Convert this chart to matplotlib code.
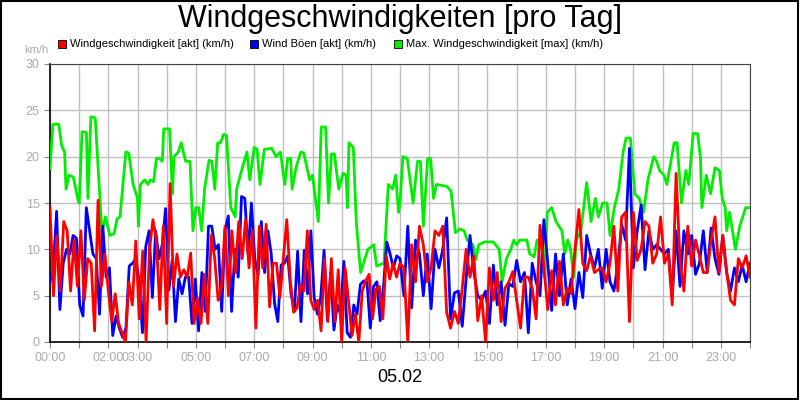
import numpy as np
import matplotlib
matplotlib.use("Agg")
import matplotlib.pyplot as plt
from matplotlib.patches import Rectangle

plt.rcParams["font.family"] = "Liberation Sans"

title = "Windgeschwindigkeiten [pro Tag]"
date_label = "05.02"
series_names = ["Windgeschwindigkeit [akt] (km/h)", "Wind Böen [akt] (km/h)", "Max. Windgeschwindigkeit [max] (km/h)"]
tick_hours = [0, 2, 3, 5, 7, 9, 11, 13, 15, 17, 19, 21, 23]
tick_labels = ["00:00", "02:00", "03:00", "05:00", "07:00", "09:00", "11:00", "13:00", "15:00", "17:00", "19:00", "21:00", "23:00"]

green_pts = [(0,18.7),(0.1,23.5),(0.3,23.5),(0.4,21.2),(0.5,20.5),(0.55,16.5),(0.65,18),(0.8,17.8),(0.95,15.5),(1.0,15),(1.1,22.7),(1.25,22.6),(1.3,15.5),(1.4,24.3),(1.55,24.2),(1.78,11.8),(1.9,13.5),(2.05,11.5),(2.2,11.7),(2.3,13.3),(2.4,13.5),(2.6,20.5),(2.7,20.4),(2.85,17),(2.95,16),(3.0,15.5),(3.03,12.5),(3.1,17),(3.25,17.5),(3.35,17),(3.45,17.5),(3.55,17.3),(3.65,19.8),(3.75,19.8),(3.85,19.5),(3.9,23),(4.1,23),(4.2,16),(4.25,20),(4.4,20.5),(4.5,21.5),(4.65,19.5),(4.8,19.5),(4.9,12),(5.0,14.5),(5.1,14.5),(5.2,12),(5.3,16.5),(5.45,19.6),(5.55,19.5),(5.65,16.5),(5.75,21.5),(5.85,21.5),(5.95,22.4),(6.05,22.3),(6.2,14.5),(6.35,13.5),(6.4,16.5),(6.55,18.3),(6.75,20.5),(6.85,17.5),(7.0,21),(7.1,20.8),(7.2,17),(7.35,20.8),(7.6,20.9),(7.75,20),(7.9,20.5),(8.05,17),(8.15,19.8),(8.25,19.8),(8.3,16.5),(8.45,19),(8.6,20.5),(8.7,20.4),(8.9,17.5),(9.0,18),(9.2,13),(9.3,23.2),(9.45,23.2),(9.55,15),(9.65,20.3),(9.75,20.3),(9.9,16.5),(10.05,18.2),(10.15,18),(10.2,14.5),(10.25,21.5),(10.4,21),(10.5,13),(10.65,7.5),(10.9,10),(11.1,10.5),(11.2,8.2),(11.45,8.5),(11.6,17),(11.75,16.5),(11.85,18),(11.95,14),(12.0,15),(12.1,20),(12.25,19.8),(12.45,15),(12.6,19.5),(12.7,19.5),(12.8,12.5),(12.95,19.8),(13.05,19.8),(13.15,15.5),(13.25,17),(13.6,16.8),(13.75,16.3),(13.9,11.8),(14.05,12.2),(14.2,12),(14.3,11),(14.5,10.5),(14.6,8.9),(14.7,10.5),(14.9,10.8),(15.2,10.8),(15.4,10),(15.5,6.5),(15.65,9),(15.8,10),(15.9,11),(16.0,10.5),(16.1,11),(16.35,11),(16.45,9.5),(16.6,9.2),(16.7,11),(16.85,10.8),(16.95,7),(17.05,14),(17.2,14.5),(17.35,13),(17.55,12),(17.65,9.5),(17.75,11),(17.85,10),(17.95,7),(18.05,11),(18.2,12),(18.4,17.2),(18.55,13),(18.7,15.5),(18.8,13.5),(18.95,15),(19.1,15),(19.2,11.5),(19.35,14.5),(19.5,16.5),(19.65,20.5),(19.75,22),(19.9,22),(20.05,16),(20.2,15.5),(20.35,14),(20.5,17.5),(20.7,20),(20.8,19.5),(20.9,18.5),(21.05,18),(21.15,17),(21.4,21.5),(21.5,21.5),(21.65,15),(21.8,18.5),(21.9,17),(22.05,22.5),(22.2,22.5),(22.3,20),(22.35,14.5),(22.5,18),(22.65,16),(22.8,18.8),(22.95,18.5),(23.05,15.5),(23.15,14.5),(23.2,12),(23.3,14),(23.5,10),(23.65,12.5),(23.85,14.5),(24.0,14.5)]
green_t = [p[0] for p in green_pts]
green_v = [p[1] for p in green_pts]

red_am = [14.5,5,11.5,5.5,13,12,5.5,11,6,12,4.5,9,8.5,1.2,15.3,6,9.5,5.5,2.2,5.2,2,1,0,6.5,4,10.9,2.5,9.8,0,10,13.2,11,3.5,12.5,2,17.1,6,9.5,7,7.8,7,9.6,2,4.7,2,7.3,2,11.5,9,4.5,6,12.5,5,12,7.5,13,9,13.2,8,12,1.5,12.5,8,12.7,3.8,8.5,8.5,4.8,9,13.2,6.8,3.2,3.7,6.2,5.5,12,4.5,3.5,4.5,1.2,9,2.2,9,2.2,7.8,0,8,4.5,0.7,3,0,5.5,6.6,7.3,2.5,5.7,6,2.5,9.3,6.8,8.5,7]
red_pm = [8.5,8,0,10.5,6.5,12.5,10.5,6.5,8,12,11.5,12.5,3.2,1.5,3.3,2,5.8,10,7,9.3,2.3,5,0,8,4.5,7.5,2.2,5.8,6.5,7.6,4.5,1.5,7,7,5.8,2.5,12.6,8,3.5,7.7,4,8.7,4,5.8,5.2,10,14.3,8.5,7.7,9.3,7.5,7.8,8,6.5,8.5,12.5,5.5,13.5,14,2.2,14,8.8,10,13,12.5,8.5,9.5,13.5,8.5,9.5,4,18.2,8.8,5.5,12.5,8.2,11,9.3,7.5,7.5,11,13.5,7.5,11.5,7.5,4.5,4,9,8,9.3,7]
blue_am = [6.5,8,14.1,3.5,8.5,10,9.5,11.5,11.2,4,2.8,14.5,12,9.5,9,3,12.5,7,8,0.7,2.8,1.5,0.5,1.5,8.2,8.5,9,6.5,1,10.3,12,4.8,12,9,10.5,14.4,5.6,8.8,2.2,6.8,5.2,7,7,2,6.8,1.2,7.5,3.3,12.5,12.5,10,10.5,3.3,12,13.6,3.3,10,7,15.7,15.5,9.5,15,9,7.2,13,7.5,12,9.5,4.2,2.2,8.3,8.5,9.3,5.2,3.3,9.8,2.2,9.9,5.2,12,4.8,3,4.8,9.9,2.3,7.5,1.3,4,3,8.7,1,0.5,4,3,6.2,6.6,6.5,1.5,6,6.5,2.3,6,10.8,9.5,8,9.3]
blue_pm = [9,5,12.5,3.7,11,9.5,5,9.5,3.6,10,8,10,13.4,2.5,5.3,5.5,1.7,6.8,11.5,7.5,5,4.5,5.5,2,8.3,4,6.5,1.8,6.3,6,8.8,6.5,7.5,1,8.5,6.5,5,13.2,8.5,3.4,9.5,5,9.5,4,6.8,3.6,7.5,4.8,11.5,9.5,8,10,5.8,10,6.5,5.5,8.3,12.7,11,20.9,8,12,14.8,7.8,12,10,10.5,10,9.5,10,4.8,12,6,12,9.5,11.5,7.3,8.5,12,7.5,12.3,9,7.3,11.5,7.5,5.5,8,6.5,8.3,6.5,8.5]

def times(am, pm):
    return np.concatenate([np.linspace(0, 12, len(am), endpoint=False), np.linspace(12, 24, len(pm))])

red_t = times(red_am, red_pm); red_v = red_am + red_pm
blue_t = times(blue_am, blue_pm); blue_v = blue_am + blue_pm

fig = plt.figure(figsize=(8, 4), dpi=100)
fig.patches.append(Rectangle((0.001, 0.002), 0.997, 0.995, transform=fig.transFigure, fill=False, ec="black", lw=1.5))
ax = fig.add_axes([0.0625, 0.145, 0.875, 0.695])
gray = "#aaaaaa"
ax.plot(green_t, green_v, color="#00ee00", lw=2, zorder=3)
ax.plot(blue_t, blue_v, color="#0000ff", lw=2, zorder=4)
ax.plot(red_t, red_v, color="#ff0000", lw=2, zorder=5)
ax.set_xlim(0, 24); ax.set_ylim(0, 30)
ax.set_xticks(range(25))
ax.set_xticklabels([tick_labels[tick_hours.index(h)] if h in tick_hours else "" for h in range(25)])
ax.set_yticks(range(0, 31, 5))
ax.grid(True, color="#c0c0c0", lw=1)
ax.set_axisbelow(True)
ax.tick_params(colors="#888888", labelsize=9, length=4, labelcolor=gray)
for s in ["top", "right"]:
    ax.spines[s].set_color("#444444")
for s in ["left", "bottom"]:
    ax.spines[s].set_color("black"); ax.spines[s].set_linewidth(1.2)
fig.text(0.5, 0.952, title, ha="center", va="center", fontsize=22)
fig.text(0.5, 0.055, date_label, ha="center", va="center", fontsize=13)
fig.text(0.045, 0.875, "km/h", ha="center", va="center", fontsize=8, color=gray)
colors = ["#ff0000", "#0000ff", "#00ee00"]
xs = [0.075, 0.315, 0.495]
for x, c, n in zip(xs, colors, series_names):
    fig.patches.append(Rectangle((x - 0.003, 0.879), 0.010, 0.02, transform=fig.transFigure, fc=c, ec="black", lw=0.6))
    fig.text(x + 0.012, 0.889, n, ha="left", va="center", fontsize=8)
fig.savefig("out.png", dpi=100)
